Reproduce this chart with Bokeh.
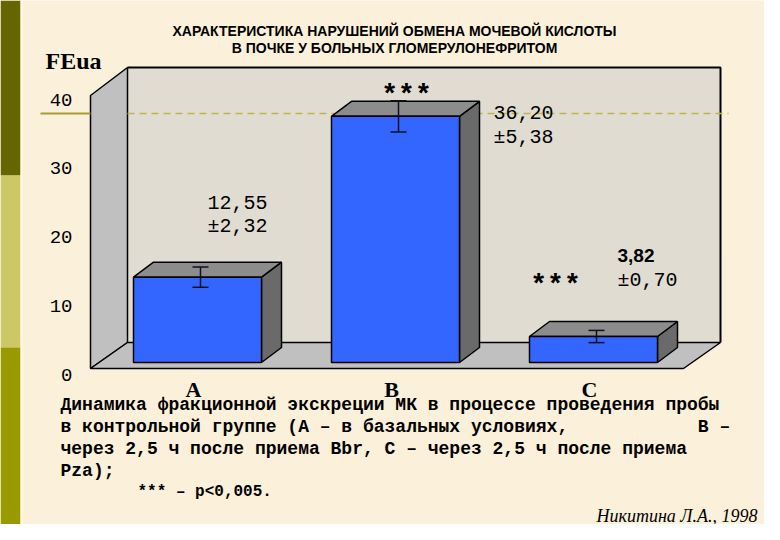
from bokeh.plotting import figure
from bokeh.models import Range1d, ColumnDataSource
from bokeh.embed import file_html
from bokeh.resources import INLINE
from bokeh.core.properties import value

# ---------------- data ----------------
categories = ["A", "B", "C"]
means = [12.55, 36.20, 3.82]
mean_labels = ["12,55", "36,20", "3,82"]
sem_labels = ["±2,32", "±5,38", "±0,70"]
err_drawn = [1.5, 2.3, 0.9]          # half-length of the drawn error bars
y_ticks = [0, 10, 20, 30, 40]
tick_labels = ["0", "10", "20", "30", "40"]
grid_value = 40
y_title = "FEua"
stars = "***"
title_lines = ["ХАРАКТЕРИСТИКА НАРУШЕНИЙ ОБМЕНА МОЧЕВОЙ КИСЛОТЫ",
               "В ПОЧКЕ У БОЛЬНЫХ ГЛОМЕРУЛОНЕФРИТОМ"]
NB = "\u00a0"
caption_lines = ["Динамика фракционной экскреции МК в процессе проведения пробы",
                 "в контрольной группе (А – в базальных условиях," + NB * 12 + "В –",
                 "через 2,5 ч после приема Bbr, С – через 2,5 ч после приема",
                 "Pza);"]
footnote = "*** – p<0,005."
citation = "Никитина Л.А., 1998"

# ---------------- layout helpers (picture pixels -> data) ----------------
W, H = 764, 524
PX0, DXP = 197.0, 198.0     # picture x of category 1, px per category
PY0, SYP = 362.0, 6.8       # picture y of value 0, px per unit


def X(px):
    return 1 + (px - PX0) / DXP


def Y(py):
    return (PY0 - py) / SYP


p = figure(width=W, height=H, output_backend="svg", toolbar_location=None,
           x_range=Range1d(X(0), X(W)), y_range=Range1d(Y(H), Y(0)),
           min_border=0)
p.axis.visible = False
p.grid.visible = False
p.outline_line_color = None
p.background_fill_color = "#FBF1DA"
p.border_fill_color = "#FBF1DA"

# slide side strip
p.quad(left=[X(0)] * 3, right=[X(20)] * 3,
       top=[Y(0), Y(175), Y(347)], bottom=[Y(175), Y(347), Y(540)],
       fill_color=["#666600", "#CCC866", "#999900"], line_color=None)
p.quad(left=[X(20)], right=[X(22)], top=[Y(0)], bottom=[Y(540)],
       fill_color="#FFF9E6", line_color=None)

# ---------------- 3D frame ----------------
lw_f, lw_b = X(90), X(127)
rw_b, fl_rf = X(720), X(683)
fl_front, fl_back = Y(368), Y(342)
wall_top = Y(67)
lw_top_front = Y(95)

# back wall
p.quad(left=[lw_b], right=[rw_b], bottom=[fl_back], top=[wall_top],
       fill_color="#E0DCD2", line_color=None)
# left wall
p.patch([lw_f, lw_b, lw_b, lw_f], [lw_top_front, wall_top, fl_back, fl_front],
        fill_color="#C0C0C0", line_color="black", line_width=1.5)
# floor
p.patch([lw_f, lw_b, rw_b, fl_rf], [fl_front, fl_back, fl_back, fl_front],
        fill_color="#C0C0C0", line_color="black", line_width=1.5)
# back wall top / right edges
p.line([lw_b, rw_b, rw_b], [wall_top, wall_top, fl_back], line_color="black", line_width=2)

# grid line at 40 (back wall scale)
back_scale = (342 - 113) / 40 / SYP
gy = fl_back + grid_value * back_scale
p.line([X(40), lw_f], [gy, gy], line_color="#A89E2E", line_width=2)
p.line([lw_b, X(728)], [gy, gy], line_color="#BDB44A", line_width=1.5, line_dash="7 5")

# ---------------- bars ----------------
xc = [i + 1 for i in range(len(categories))]
hw = 64 / DXP
bdx, bdy = 20 / DXP, 15 / SYP

side_xs, side_ys, top_xs, top_ys = [], [], [], []
for c, v in zip(xc, means):
    side_xs.append([c + hw, c + hw, c + hw + bdx, c + hw + bdx])
    side_ys.append([0, v, v + bdy, bdy])
    top_xs.append([c - hw, c - hw + bdx, c + hw + bdx, c + hw])
    top_ys.append([v, v + bdy, v + bdy, v])

p.patches(side_xs, side_ys, fill_color="#6A6A6A", line_color="black", line_width=1.5)
p.patches(top_xs, top_ys, fill_color="#8C8C8C", line_color="black", line_width=1.5)
p.quad(left=[c - hw for c in xc], right=[c + hw for c in xc],
       bottom=[0] * len(xc), top=means,
       fill_color="#3366FF", line_color="black", line_width=1.5)

# error bars
ex = [c + 3 / DXP for c in xc]
cap = 8 / DXP
lo = [m - e for m, e in zip(means, err_drawn)]
hi = [m + e for m, e in zip(means, err_drawn)]
p.segment(x0=ex, y0=lo, x1=ex, y1=hi, line_color="#101020", line_width=1.5)
p.segment(x0=[e - cap for e in ex], y0=lo, x1=[e + cap for e in ex], y1=lo,
          line_color="#101020", line_width=1.5)
p.segment(x0=[e - cap for e in ex], y0=hi, x1=[e + cap for e in ex], y1=hi,
          line_color="#101020", line_width=1.5)

# ---------------- texts ----------------
MONO = value("Liberation Mono")
SANS = value("Liberation Sans")
SERIF = value("Liberation Serif")


def txt(xs, ys, texts, font, size, align="left", style="normal", color="black"):
    src = ColumnDataSource(dict(x=xs, y=ys, t=texts))
    p.text(x="x", y="y", text="t", source=src, text_font=font,
           text_font_size=size, text_align=align, text_baseline="middle",
           text_font_style=style, text_color=color)


# title
txt([X(394)] * 2, [Y(30), Y(47.5)], title_lines, SANS, "14px", "center", "bold")
# y title
txt([X(45)], [Y(60)], [y_title], SERIF, "24px", "left", "bold")
# tick labels
txt([X(72)] * len(y_ticks), [Y(374 - 6.875 * t) for t in y_ticks], tick_labels,
    MONO, "19px", "right")
# category labels
txt([c - 4 / DXP for c in xc], [Y(389)] * len(xc), categories, SERIF, "22px",
    "center", "bold")

# value annotations (placed beside bars)
ann_x = [X(207), X(493), X(617)]
ann_y1 = [Y(202), Y(111.5), Y(254.5)]
ann_y2 = [Y(226), Y(137), Y(279.5)]
txt(ann_x[:2], ann_y1[:2], mean_labels[:2], MONO, "20px", "left")
txt([ann_x[2]], [ann_y1[2]], [mean_labels[2]], SANS, "19px", "left", "bold")
txt(ann_x, ann_y2, sem_labels, MONO, "20px", "left")
# significance stars
txt([X(406), X(555)], [Y(95), Y(285)], [stars, stars], MONO, "28px", "center", "bold")

# caption
txt([X(60)] * len(caption_lines), [Y(404), Y(426), Y(448), Y(470)],
    caption_lines, MONO, "18px", "left", "bold")
txt([X(137)], [Y(491)], [footnote], MONO, "16px", "left", "bold")
txt([X(757)], [Y(515)], [citation], SERIF, "18px", "right", "italic")

open("out.html", "w").write(file_html(p, INLINE))
